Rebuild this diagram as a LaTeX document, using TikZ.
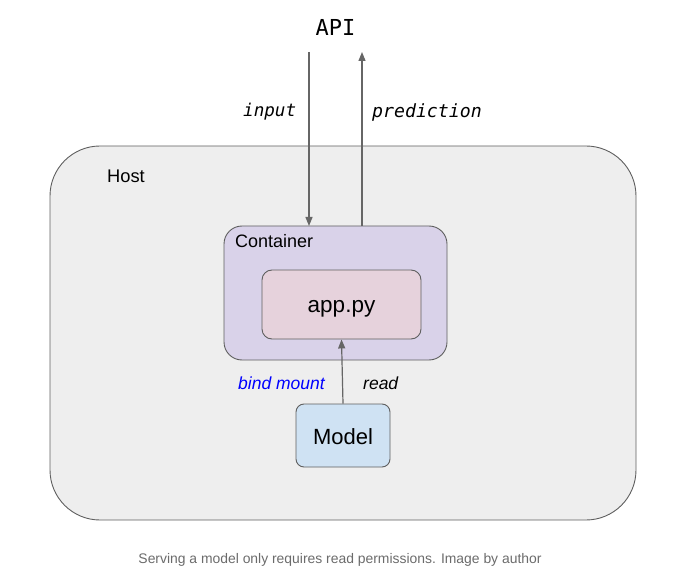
\documentclass[tikz,border=0pt]{standalone}
\usepackage{fontspec}
\setmainfont{Liberation Sans}
\newfontfamily\apimono{DejaVu Sans Mono}
\usetikzlibrary{arrows.meta}
\definecolor{hostfill}{HTML}{EEEEEE}
\definecolor{contfill}{HTML}{D9D2E9}
\definecolor{appfill}{HTML}{E6D2DC}
\definecolor{modelfill}{HTML}{CFE2F3}
\definecolor{edgegray}{HTML}{5F5F5F}
\definecolor{arrowgray}{HTML}{666666}
\definecolor{capgray}{HTML}{6B6B6B}
\tikzset{
  box/.style={draw=edgegray, line width=0.9pt, inner sep=0pt},
  flow/.style={draw=arrowgray, line width=1.2pt, -{Triangle[length=9pt,width=7pt]}},
  lbl/.style={inner sep=0pt, anchor=west},
}
\begin{document}
\begin{tikzpicture}[x=1pt,y=-1pt]
\useasboundingbox (0,0) rectangle (680,569);
% host
\node[box, fill=hostfill, rounded corners=50pt, minimum width=586pt, minimum height=374pt] (host) at (343,333) {};
\node[lbl] (hostlbl) at (107,176) {\fontsize{18.3}{22}\selectfont Host};
% container
\node[box, fill=contfill, rounded corners=18pt, minimum width=223pt, minimum height=134pt] (cont) at (335.5,293) {};
\node[lbl] (contlbl) at (235,241.5) {\fontsize{18}{22}\selectfont Container};
% app
\node[box, fill=appfill, rounded corners=10pt, minimum width=159pt, minimum height=69pt] (app) at (341.5,304.5) {};
\node (applbl) at (341.5,309) {\fontsize{22.5}{26}\selectfont app.py};
% model
\node[box, fill=modelfill, rounded corners=8pt, minimum width=94pt, minimum height=63pt] (model) at (343,435.5) {};
\node (modellbl) at (343,437) {\fontsize{22}{26}\selectfont Model};
% API
\node (api) at (335.5,27) {\apimono\fontsize{22}{26}\selectfont API};
\coordinate (inTop) at (309,52);
\coordinate (inBot) at (309,226);
\coordinate (predBot) at (362,226);
\coordinate (predTop) at (362,52);
\draw[flow] (inTop) -- (inBot);
\draw[flow] (predBot) -- (predTop);
\node[lbl] (inlbl) at (243,112) {\apimono\itshape\fontsize{17.6}{20}\selectfont input};
\node[lbl] (predlbl) at (372,112) {\apimono\itshape\fontsize{18.2}{20}\selectfont prediction};
% read
\draw[flow] (model.north) -- (app.south);
\node[lbl] (bindlbl) at (238,383) {\color{blue}\itshape\fontsize{17.5}{20}\selectfont bind mount};
\node[lbl] (readlbl) at (363,383) {\itshape\fontsize{17.5}{20}\selectfont read};
% caption
\node (caption) at (340,560) {\color{capgray}\fontsize{13.9}{16}\selectfont Serving a model only requires read permissions. Image by author};
\end{tikzpicture}
\end{document}
